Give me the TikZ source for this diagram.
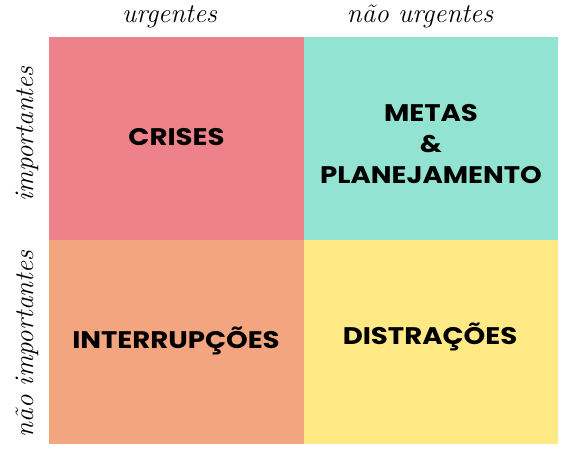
\documentclass[tikz,border=0pt]{standalone}
\usepackage{fontspec}
\newfontfamily\boxfont{Poppins}
\definecolor{qred}{HTML}{EE828B}
\definecolor{qteal}{HTML}{92E3D2}
\definecolor{qorange}{HTML}{F2A57E}
\definecolor{qyellow}{HTML}{FFE985}
\begin{document}
\begin{tikzpicture}[x=1pt,y=-1pt,
  qtext/.style={font=\boxfont\bfseries\fontsize{24}{31}\selectfont,align=center,text=black,xscale=1.15,inner sep=0pt},
  hand/.style={font=\itshape\fontsize{27}{29}\selectfont,text=black,anchor=base,inner sep=0pt}]
\useasboundingbox (0,0) rectangle (584,467);
\fill[qred] (49,37) rectangle (304,240);
\fill[qteal] (304,37) rectangle (558,240);
\fill[qorange] (49,240) rectangle (304,444);
\fill[qyellow] (304,240) rectangle (558,444);
\node[qtext,anchor=base] (crises) at (176.5,145) {CRISES};
\node[qtext] (metas) at (431,144) {METAS\\\&\\PLANEJAMENTO};
\node[qtext,anchor=base] (inter) at (176,348) {INTERRUPÇÕES};
\node[qtext,anchor=base] (dist) at (430,344) {DISTRAÇÕES};
\node[hand] (urg) at (169.5,22) {urgentes};
\node[hand] (nurg) at (420,22) {não urgentes};
\node[hand,rotate=90] (imp) at (33,134) {importantes};
\node[hand,rotate=90] (nimp) at (33,344) {não importantes};
\end{tikzpicture}
\end{document}
